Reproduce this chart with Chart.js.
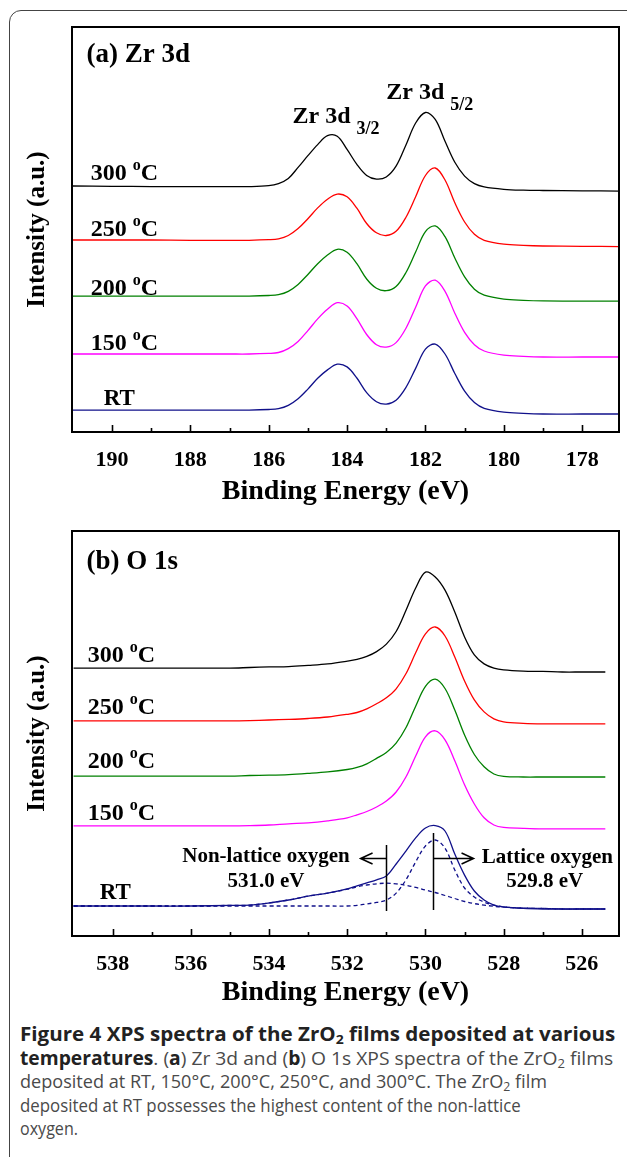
<!DOCTYPE html>
<html>
<head>
<meta charset="utf-8">
<title>XPS spectra of ZrO2 films</title>
<script src="https://cdn.jsdelivr.net/npm/chart.js@4.4.0/dist/chart.umd.min.js"></script>
<style>
  html, body { margin: 0; padding: 0; background: #fff; }
  body { width: 627px; height: 1157px; position: relative; overflow: hidden; }
  #frame { position: absolute; left: 9px; top: 10px; width: 660px; height: 1200px;
           border: 1.5px solid #444; border-radius: 12px; box-sizing: border-box; }
  canvas { position: absolute; left: 0; }
  #panelA { top: 0; }
  #panelB { top: 510px; }
  #caption { position: absolute; left: 20px; top: 1023px; font-family: "Open Sans", sans-serif;
             font-size: 19px; color: #4a4a4a; white-space: nowrap; }
  #caption .ln { height: 23.5px; line-height: 23.5px; }
  #caption .ln span { display: inline-block; transform-origin: 0 50%; }
  #caption b { color: #222; }
  #caption sub { font-size: 0.68em; line-height: 0; vertical-align: -0.25em; }
</style>
</head>
<body>
<div id="frame"></div>
<canvas id="panelA" width="627" height="510"></canvas>
<canvas id="panelB" width="627" height="505"></canvas>
<div id="caption">
  <div class="ln"><span data-w="595"><b>Figure 4 XPS spectra of the ZrO<sub>2</sub> films deposited at various</b></span></div>
  <div class="ln"><span data-w="593"><b>temperatures</b>. (<b>a</b>) Zr 3d and (<b>b</b>) O 1s XPS spectra of the ZrO<sub>2</sub> films</span></div>
  <div class="ln"><span data-w="527">deposited at RT, 150°C, 200°C, 250°C, and 300°C. The ZrO<sub>2</sub> film</span></div>
  <div class="ln"><span data-w="501">deposited at RT possesses the highest content of the non-lattice</span></div>
  <div class="ln"><span data-w="58">oxygen.</span></div>
</div>
<script>
// XPS spectra, panel (a) Zr 3d and panel (b) O 1s

const serif = "'Liberation Serif', 'Times New Roman', serif";

// ---- panel (a): Zr 3d (a.u.) ----
const zrEnergy = [191.0, 190, 189, 188, 187, 186.5, 186, 185.75, 185.5, 185.25, 185, 184.75, 184.5, 184.25,
  184, 183.75, 183.5, 183.25, 183, 182.75, 182.5, 182.25, 182, 181.75, 181.5, 181.25, 181, 180.75, 180.5,
  180, 179.5, 179, 178, 177.05];
const zr300 = [82.0, 81.9, 81.8, 81.8, 81.8, 81.8, 82.1, 82.8, 84.5, 88.2, 92.1, 95.8, 98.8, 98.6, 94.2, 89.2,
  85.5, 84.3, 85.0, 88.6, 95.6, 103.0, 106.5, 104.2, 96.9, 89.9, 85.3, 82.8, 81.7, 80.9, 80.6, 80.5, 80.4, 80.3];
const zr250 = [64.0, 64.0, 64.0, 63.9, 63.9, 63.9, 64.1, 64.4, 65.5, 67.8, 71.1, 74.7, 77.6, 79.3, 78.4, 74.6,
  69.5, 66.4, 65.5, 66.9, 71.5, 78.4, 85.5, 88.0, 84.0, 76.4, 70.0, 65.9, 63.9, 62.6, 62.2, 62.0, 61.9, 61.8];
const zr200 = [45.3, 45.3, 45.3, 45.3, 45.3, 45.3, 45.5, 45.8, 46.9, 49.2, 52.5, 56.1, 59.0, 60.9, 59.9, 56.1,
  51.0, 47.9, 47.1, 48.5, 53.1, 60.0, 66.8, 68.7, 65.1, 58.0, 51.7, 47.6, 45.6, 44.3, 43.9, 43.7, 43.6, 43.6];
const zr150 = [26.0, 26.0, 26.0, 26.0, 26.0, 26.0, 26.2, 26.5, 27.8, 30.2, 33.8, 37.7, 40.9, 43.1, 42.0, 37.8,
  32.5, 29.1, 28.3, 29.8, 34.5, 41.6, 48.7, 50.6, 46.9, 39.6, 33.2, 29.1, 27.0, 25.6, 25.2, 25.0, 25.0, 25.0];
const zrRT = [7.3, 7.3, 7.3, 7.3, 7.3, 7.3, 7.5, 7.8, 8.9, 11.1, 14.3, 17.9, 20.7, 22.6, 21.7, 18.0,
  13.1, 10.1, 9.3, 10.6, 14.8, 21.2, 27.6, 29.3, 26.0, 19.5, 13.6, 9.8, 7.9, 6.6, 6.2, 6.0, 6.0, 6.0];
const zrTicks = [190, 188, 186, 184, 182, 180, 178];
const zrMinorTicks = [189, 187, 185, 183, 181, 179];

// ---- panel (b): O 1s ----
const oEnergy = [539.0, 538, 537, 536, 535, 534.5, 534, 533.5, 533, 532.5, 532, 531.75, 531.5, 531.25, 531.0,
  530.75, 530.5, 530.25, 530.0, 529.75, 529.5, 529.25, 529.0, 528.75, 528.5, 528.25, 528.0, 527.5, 527,
  526.5, 526, 525.4];
const o300 = [89.3, 89.3, 89.3, 89.3, 89.3, 89.5, 89.7, 89.8, 90.2, 90.7, 91.6, 92.2, 93.2, 94.8, 97.3,
  101.5, 108.5, 116.0, 121.3, 119.7, 115.3, 108.0, 99.7, 93.7, 90.7, 89.3, 88.7, 88.3, 88.2, 88.0, 88.0, 88.0];
const o250 = [71.7, 71.7, 71.7, 71.7, 71.7, 71.8, 72.0, 72.2, 72.5, 73.0, 73.9, 74.5, 75.7, 77.4, 79.4,
  82.4, 87.4, 94.4, 100.7, 103.0, 100.0, 93.0, 85.0, 78.7, 74.7, 72.4, 71.4, 70.9, 70.7, 70.7, 70.7, 70.7];
const o200 = [53.3, 53.3, 53.3, 53.3, 53.3, 53.5, 53.6, 53.8, 54.2, 54.7, 55.5, 56.2, 57.4, 59.2, 61.2,
  64.3, 69.4, 76.6, 83.2, 85.6, 82.5, 75.3, 67.0, 60.5, 56.4, 54.0, 53.2, 53.0, 53.0, 53.0, 53.0, 53.0];
const o150 = [36.7, 36.7, 36.7, 36.7, 36.7, 36.8, 37.0, 37.4, 37.7, 38.4, 39.4, 40.4, 41.5, 43.0, 45.0,
  48.0, 53.0, 60.0, 66.4, 68.4, 65.4, 58.4, 50.4, 44.0, 39.4, 37.0, 36.2, 35.9, 35.7, 35.7, 35.7, 35.7];
const oRT = [10.0, 10.0, 10.0, 10.0, 10.2, 10.3, 11.0, 12.0, 13.3, 14.3, 15.7, 16.7, 17.7, 18.7, 20.0,
  24.0, 28.3, 32.7, 36.0, 36.8, 35.0, 27.3, 20.3, 15.0, 12.0, 10.3, 9.7, 9.2, 9.0, 9.0, 9.0, 9.0];
// fitted components of the RT spectrum
const oLattice = [10.0, 10.0, 10.0, 10.0, 10.0, 10.0, 10.0, 10.0, 10.0, 10.0, 10.0, 10.2, 10.7, 11.2, 12.0,
  14.3, 18.7, 24.7, 30.0, 32.0, 29.3, 22.0, 16.0, 13.0, 11.3, 10.3, 9.7, 9.3, 9.2, 9.0, 9.0, 9.0];
const oNonLattice = [10.0, 10.0, 10.0, 10.0, 10.2, 10.3, 11.0, 12.0, 13.3, 14.3, 15.6, 16.4, 17.0, 17.4, 17.6,
  17.4, 16.9, 16.2, 15.3, 14.5, 13.5, 12.5, 11.5, 10.8, 10.3, 9.9, 9.6, 9.3, 9.2, 9.0, 9.0, 9.0];
const oTicks = [538, 536, 534, 532, 530, 528, 526];
const oMinorTicks = [537, 535, 533, 531, 529, 527];

// component centres, marker lines and arrows
const fitCentres = [531.0, 529.8];
const fitLineTop = [30.3, 34.3];
const fitLineBottom = [8.3, 8.7];
const arrowEnds = [531.66, 528.77];
const arrowLevel = 26;

const temps = ['300', '250', '200', '150'];
const seriesColors = ['#000000', '#ff0000', '#008000', '#ff00ff', '#10108a'];

// label anchors (energy, intensity)
const zrLabelX = [190.54, 190.54, 190.54, 190.54, 190.21];
const zrLabelY = [84, 65.3, 45.7, 27.3, 9];
const oLabelX = [538.64, 538.64, 538.64, 538.64, 538.33];
const oLabelY = [91.3, 74, 56, 38.7, 12.3];

function toPoints(xs, ys) {
  return xs.map((x, i) => ({ x: x, y: ys[i] }));
}

function lineSet(xs, ys, color, dashed) {
  return {
    data: toPoints(xs, ys),
    borderColor: color,
    borderWidth: 1.3,
    borderDash: dashed ? [4, 3] : [],
    pointRadius: 0,
    fill: false,
    tension: 0.35
  };
}

// draw a run of text pieces, each [text, size, rise]
function textRun(ctx, x, y, parts, align) {
  let total = 0;
  parts.forEach(p => {
    ctx.font = 'bold ' + p[1] + 'px ' + serif;
    total += ctx.measureText(p[0]).width;
  });
  let cx = align === 'center' ? x - total / 2 : x;
  parts.forEach(p => {
    ctx.font = 'bold ' + p[1] + 'px ' + serif;
    ctx.fillText(p[0], cx, y - p[2]);
    cx += ctx.measureText(p[0]).width;
  });
}

function tempLabels(xs, ys) {
  const out = temps.map((t, i) => ({
    x: xs[i], y: ys[i], parts: [[t + ' ', 24, 0], ['o', 16, 10], ['C', 24, 0]]
  }));
  out.push({ x: xs[4], y: ys[4], parts: [['RT', 23, 0]] });
  return out;
}

function decor(opts) {
  return {
    id: 'decor',
    afterDraw(chart) {
      const ctx = chart.ctx;
      const a = chart.chartArea;
      const xs = chart.scales.x;
      const ys = chart.scales.y;
      ctx.save();
      ctx.strokeStyle = '#000';
      ctx.lineWidth = 2;
      ctx.strokeRect(a.left, a.top, a.right - a.left, a.bottom - a.top);

      // inward ticks on the energy axis
      ctx.lineWidth = 1.6;
      ctx.beginPath();
      opts.major.forEach(v => {
        const px = Math.round(xs.getPixelForValue(v)) + 0.5;
        ctx.moveTo(px, a.bottom);
        ctx.lineTo(px, a.bottom - 7);
      });
      opts.minor.forEach(v => {
        const px = Math.round(xs.getPixelForValue(v)) + 0.5;
        ctx.moveTo(px, a.bottom);
        ctx.lineTo(px, a.bottom - 4);
      });
      ctx.stroke();

      ctx.fillStyle = '#000';
      ctx.textBaseline = 'alphabetic';
      opts.labels.forEach(l => {
        textRun(ctx, xs.getPixelForValue(l.x), ys.getPixelForValue(l.y), l.parts, l.align || 'left');
      });
      if (opts.extra) opts.extra(ctx, xs, ys);
      ctx.restore();
    }
  };
}

// marker lines and arrows for the RT fit
function drawFitMarks(ctx, xs, ys) {
  ctx.strokeStyle = '#000';
  ctx.lineWidth = 1.5;
  ctx.beginPath();
  fitCentres.forEach((c, i) => {
    const px = Math.round(xs.getPixelForValue(c)) + 0.5;
    ctx.moveTo(px, ys.getPixelForValue(fitLineTop[i]));
    ctx.lineTo(px, ys.getPixelForValue(fitLineBottom[i]));
    const end = xs.getPixelForValue(arrowEnds[i]);
    const py = Math.round(ys.getPixelForValue(arrowLevel)) + 0.5;
    const dir = end < px ? -1 : 1;
    ctx.moveTo(px, py);
    ctx.lineTo(end, py);
    ctx.moveTo(end - dir * 12, py - 5.5);
    ctx.lineTo(end, py);
    ctx.lineTo(end - dir * 12, py + 5.5);
  });
  ctx.stroke();
}

function panelOptions(xMin, xMax, tickVals, padTop, axisHeight, titlePad) {
  const bold = size => ({ family: serif, size: size, weight: 'bold' });
  return {
    responsive: false,
    animation: false,
    events: [],
    layout: { padding: { top: padTop, right: 8, bottom: 0, left: 0 } },
    plugins: { legend: { display: false }, tooltip: { enabled: false } },
    scales: {
      x: {
        type: 'linear',
        reverse: true,
        min: xMin,
        max: xMax,
        afterBuildTicks: s => { s.ticks = tickVals.map(v => ({ value: v })); },
        afterFit: s => { s.height = axisHeight; },
        grid: { display: false },
        border: { display: false },
        ticks: { color: '#000', padding: 7, maxRotation: 0, autoSkip: false, font: bold(22) },
        title: { display: true, text: 'Binding Energy (eV)', color: '#000',
                 padding: { top: 0, bottom: titlePad }, font: bold(28) }
      },
      y: {
        min: 0,
        max: 135,
        afterFit: s => { s.width = 72; },
        grid: { display: false },
        border: { display: false },
        ticks: { display: false },
        title: { display: true, text: 'Intensity (a.u.)', color: '#000',
                 padding: { top: 23, bottom: 0 }, font: bold(25) }
      }
    }
  };
}

function initPanelA() {
  const series = [zr300, zr250, zr200, zr150, zrRT];
  const labels = tempLabels(zrLabelX, zrLabelY);
  labels.push({ x: 190.65, y: 123.3, parts: [['(a) Zr 3d', 27, 0]] });
  labels.push({ x: 185.39, y: 103, parts: [['Zr 3d ', 24, 0], ['3/2', 18, -11]] });
  labels.push({ x: 183.0, y: 111, parts: [['Zr 3d ', 24, 0], ['5/2', 18, -11]] });

  new Chart(document.getElementById('panelA'), {
    type: 'line',
    data: { datasets: series.map((s, i) => lineSet(zrEnergy, s, seriesColors[i], false)) },
    options: panelOptions(177.06, 191.02, zrTicks, 27, 78, 1),
    plugins: [decor({ major: zrTicks, minor: zrMinorTicks, labels: labels })]
  });
}

function initPanelB() {
  const series = [o300, o250, o200, o150, oRT];
  const sets = series.map((s, i) => lineSet(oEnergy, s, seriesColors[i], false));
  sets.push(lineSet(oEnergy, oLattice, seriesColors[4], true));
  sets.push(lineSet(oEnergy, oNonLattice, seriesColors[4], true));

  const labels = tempLabels(oLabelX, oLabelY);
  labels.push({ x: 538.67, y: 122.3, parts: [['(b) O 1s', 27, 0]] });
  labels.push({ x: 534.08, y: 24.7, parts: [['Non-lattice oxygen', 21, 0]], align: 'center' });
  labels.push({ x: 534.08, y: 16.3, parts: [['531.0 eV', 21, 0]], align: 'center' });
  labels.push({ x: 528.56, y: 24.3, parts: [['Lattice oxygen', 21, 0]] });
  labels.push({ x: 526.95, y: 16.3, parts: [['529.8 eV', 21, 0]], align: 'center' });

  new Chart(document.getElementById('panelB'), {
    type: 'line',
    data: { datasets: sets },
    options: panelOptions(525.05, 539.04, oTicks, 21, 79, 5),
    plugins: [decor({ major: oTicks, minor: oMinorTicks, labels: labels, extra: drawFitMarks })]
  });
}

// squeeze or stretch each caption line to the width it has in the figure
function fitCaption() {
  document.querySelectorAll('#caption .ln span').forEach(el => {
    const target = parseFloat(el.dataset.w);
    const w = el.getBoundingClientRect().width;
    if (w > 0) el.style.transform = 'scaleX(' + (target / w).toFixed(3) + ')';
  });
}

function init() {
  initPanelA();
  initPanelB();
  fitCaption();
}

document.addEventListener('DOMContentLoaded', init);
</script>
</body>
</html>
